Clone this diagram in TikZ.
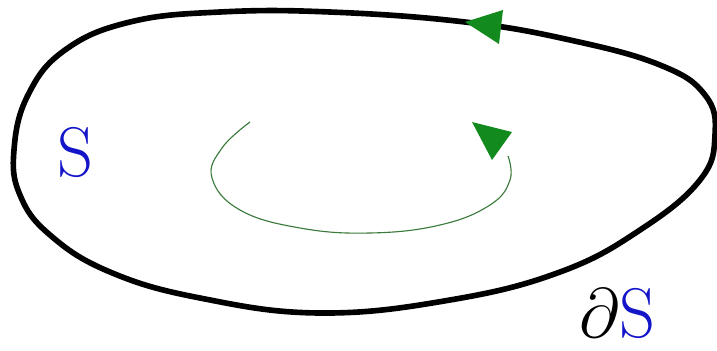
\documentclass[tikz,border=0pt]{standalone}
\usetikzlibrary{positioning}
\definecolor{bdGreen}{HTML}{138A1E}
\definecolor{arcGreen}{HTML}{3A7A3A}
\definecolor{lblBlue}{HTML}{1414C8}
\tikzset{
    boundary/.style={line width=4pt, black, line join=round},
    circulation/.style={line width=0.8pt, arcGreen},
    tiphead/.style={fill=bdGreen},
    setlabel/.style={font=\fontsize{50}{58}\selectfont, inner sep=0pt, text=lblBlue}
}
\begin{document}
\begin{tikzpicture}[x=0.025cm,y=-0.025cm]
    \useasboundingbox (0,0) rectangle (717,350);

    % Boundary of the region
    \draw[boundary] plot[smooth cycle, tension=0.7] coordinates {
        (14,150) (28,95) (65,50) (130,22) (220,12) (330,12) (465,22)
        (570,40) (660,65) (705,95) (715,135) (700,180) (640,230)
        (560,272) (450,300) (320,313) (200,298) (110,272) (50,235) (20,195)};

    % Orientation of the boundary
    \coordinate (bTip) at (465,22);
    \fill[tiphead] (bTip) -- (503,10) -- (499,44) -- cycle;

    % Circulation inside the region
    \draw[circulation] plot[smooth, tension=0.7] coordinates {
        (250,122) (222,148) (212,178) (240,210) (300,228) (370,233)
        (440,225) (490,205) (510,180) (508,156)};
    \coordinate (cTip) at (472,122);
    \fill[tiphead] (cTip) -- (512,132) -- (492,160) -- cycle;

    % Labels
    \node[setlabel] (regionS) at (75,152) {S};
    \node[setlabel, anchor=base] (boundS) at (617,337) {\textcolor{black}{\scalebox{2}{$\partial$}}S};
\end{tikzpicture}
\end{document}
